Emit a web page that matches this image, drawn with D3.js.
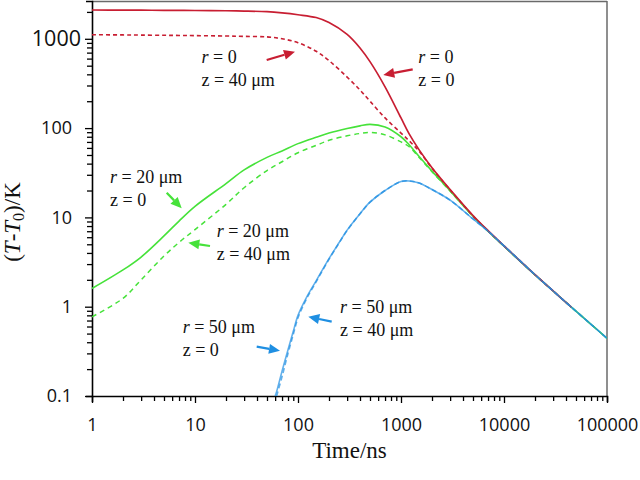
<!DOCTYPE html>
<html><head><meta charset="utf-8">
<script src="https://cdn.jsdelivr.net/npm/d3@7"></script>
<style>
html,body{margin:0;padding:0;background:#fff;}
svg{display:block;}
</style></head>
<body>
<svg id="chart" width="640" height="480"></svg>
<script>
// ---- data ----
const timeRG = [1,2,3,5,7,10,20,30,50,70,100,150,200,300,400,500,700,1000,1200,1500,2000,3000,5000,7000,10000,20000,30000,45000,70000,100000];
const redSolid  = [2100,2095,2090,2085,2080,2075,2060,2045,2010,1950,1860,1730,1520,1120,790,555,290,130,86,57,36,20.5,10.5,7.1,4.8,2.28,1.5,0.99,null,null];
const redDashed = [1110,1105,1100,1095,1090,1085,1075,1065,1050,1000,905,725,570,372,267,200,130,88,72,55,35.5,20.3,10.4,7.05,4.8,2.28,1.5,0.99,null,null];
const greenSolid  = [1.6,2.58,3.6,6.2,9.1,13.3,23.9,34,47,55.5,67,79,88,99,106,110,103,80,65,48,33,19.8,10.3,7.0,4.75,2.27,1.5,0.99,0.635,0.443];
const greenDashed = [0.77,1.24,2.0,3.7,5.25,7.3,14,21.5,33.5,42,53,64,73,82,87,89.5,84,70,62,47,32.5,19.7,10.3,7.0,4.75,2.27,1.5,0.99,0.635,0.443];
const timeBlue = [60,62,70,80,90,100,120,150,200,250,300,400,500,700,1000,1200,1500,2000,3000,5000,7000,10000,20000,30000,45000,70000,100000];
const blueSolid  = [0.1,0.112,0.19,0.33,0.53,0.8,1.25,1.95,3.45,5.2,7.2,11.0,14.8,20,25.2,25.6,24.3,20.5,15.6,9.6,7.0,4.8,2.28,1.5,0.99,0.635,0.443];
const blueDashed = [null,0.1,0.165,0.3,0.49,0.75,1.2,1.9,3.4,5.15,7.15,11.0,14.8,20,25.2,25.6,24.3,20.5,15.6,9.6,7.0,4.8,2.28,1.5,0.99,0.635,0.443];
const xTickLabels = ["1","10","100","1000","10000","100000"];
const yTickLabels = ["0.1","1","10","100","1000"];

// ---- layout ----
const L = 92, R = 607, T = 1, B = 396;
const RED = "#c81e32", GREEN = "#46e23a", BLUE = "#1f8fe2";
const svg = d3.select("#chart");
const x = d3.scaleLog().domain([1, 100000]).range([L, R]);
const y = d3.scaleLog().domain([0.1, 2650]).range([B, T]);

svg.append("defs").append("clipPath").attr("id","clip")
  .append("rect").attr("x",L).attr("y",T).attr("width",R-L).attr("height",B-T);

function logTicks(lo, hi){
  const out=[];
  for(let e=Math.floor(Math.log10(lo)); e<=Math.ceil(Math.log10(hi)); e++){
    for(let m=1;m<10;m++){ const v=m*Math.pow(10,e); if(v>=lo*0.999 && v<=hi*1.001) out.push(v); }
  }
  return out;
}
const isMajor = v => Math.abs(Math.log10(v)-Math.round(Math.log10(v)))<1e-6;

// frame top/right
svg.append("line").attr("x1",L).attr("x2",R).attr("y1",T+0.5).attr("y2",T+0.5).attr("stroke","#6a6a6a").attr("stroke-width",1.5);
svg.append("line").attr("x1",R).attr("x2",R).attr("y1",T).attr("y2",B).attr("stroke","#6a6a6a").attr("stroke-width",1.5);

// x axis
const xAxis = d3.axisBottom(x).tickValues(logTicks(1,100000)).tickSize(6).tickPadding(16)
  .tickFormat(v => isMajor(v) ? xTickLabels[Math.round(Math.log10(v))] : "");
const gx = svg.append("g").attr("transform",`translate(0,${B})`).call(xAxis);
gx.select(".domain").attr("stroke","#000").attr("stroke-width",1.6);
gx.selectAll(".tick line").attr("stroke","#000").attr("stroke-width",1.3).attr("y2", d => isMajor(d)?7:5);
gx.selectAll(".tick text").attr("font-family","'Open Sans', sans-serif").attr("font-size",18).attr("fill","#111");

// y axis
const yAxis = d3.axisLeft(y).tickValues(logTicks(0.1,2650)).tickSize(6).tickPadding(14)
  .tickFormat(v => isMajor(v) ? yTickLabels[Math.round(Math.log10(v))+1] : "");
const gy = svg.append("g").attr("transform",`translate(${L},0)`).call(yAxis);
gy.select(".domain").attr("stroke","#000").attr("stroke-width",1.6);
gy.selectAll(".tick line").attr("stroke","#000").attr("stroke-width",1.3).attr("x2", d => isMajor(d)?-7:-5);
gy.selectAll(".tick text").attr("font-family","'Open Sans', sans-serif").attr("font-size",18).attr("fill","#111");
gy.selectAll(".tick text").filter(d => Math.abs(d-1000)<1e-6).attr("font-size",21.5).attr("dx",9);

// lines
const plot = svg.append("g").attr("clip-path","url(#clip)");
function drawLine(ts, vals, color, dash, width, op){
  const data = ts.map((t,i)=>({t, v: vals[i]}));
  const line = d3.line().defined(d => d.v != null).x(d => x(d.t)).y(d => y(d.v)).curve(d3.curveCatmullRom.alpha(0.5));
  plot.append("path").datum(data).attr("d", line).attr("fill","none")
    .attr("stroke", color).attr("stroke-width", width).attr("stroke-dasharray", dash)
    .attr("stroke-opacity", op).attr("stroke-linejoin","round");
}
drawLine(timeRG, greenDashed, GREEN, "5,4", 1.5, 1);
drawLine(timeRG, greenSolid, GREEN, null, 1.6, 1);
drawLine(timeRG, redDashed, RED, "4,3", 1.6, 1);
drawLine(timeRG, redSolid, RED, null, 1.7, 1);
drawLine(timeBlue, blueDashed, BLUE, "5,3", 1.6, 0.7);
drawLine(timeBlue, blueSolid, BLUE, null, 1.6, 0.7);

// annotations
function label(xp, yp, rVal, zVal){
  const g = svg.append("g").attr("font-family","'Liberation Serif', 'Times New Roman', serif").attr("font-size",18).attr("fill","#111");
  const t1 = g.append("text").attr("x",xp).attr("y",yp).attr("xml:space","preserve");
  t1.append("tspan").attr("font-style","italic").text("r");
  t1.append("tspan").text(" = " + rVal);
  g.append("text").attr("x",xp).attr("y",yp+23).attr("xml:space","preserve").text("z = " + zVal);
}
function arrow(x1,y1,x2,y2,color){
  const ang = Math.atan2(y2-y1, x2-x1), hl = 11, hw = 5;
  const bx = x2 - hl*Math.cos(ang), by = y2 - hl*Math.sin(ang);
  svg.append("line").attr("x1",x1).attr("y1",y1).attr("x2",bx).attr("y2",by)
    .attr("stroke",color).attr("stroke-width",2.2);
  const p = [[x2,y2],[bx + hw*Math.sin(ang), by - hw*Math.cos(ang)],[bx - hw*Math.sin(ang), by + hw*Math.cos(ang)]];
  svg.append("polygon").attr("points", p.map(q=>q.join(",")).join(" ")).attr("fill",color);
}
label(201.5, 63, "0", "40 μm");
arrow(266.7, 60, 295, 51.7, RED);
label(418.3, 63, "0", "0");
arrow(412.7, 69.3, 383.3, 75, RED);
label(110, 183, "20 μm", "0");
arrow(166.7, 192.7, 181.7, 208.3, GREEN);
label(216.7, 236.7, "20 μm", "40 μm");
arrow(210, 246, 188.3, 242.7, GREEN);
label(182.7, 333, "50 μm", "0");
arrow(256.7, 346.7, 280, 350.7, BLUE);
label(340, 313.3, "50 μm", "40 μm");
arrow(331.7, 321.7, 308.3, 316.7, BLUE);

// axis titles
svg.append("text").attr("x",(L+R)/2).attr("y",458).attr("text-anchor","middle")
  .attr("font-family","'Liberation Serif', 'Times New Roman', serif").attr("font-size",23).attr("fill","#111")
  .text("Time/ns");
const yt = svg.append("text").attr("transform","translate(20,222) rotate(-90)").attr("text-anchor","middle")
  .attr("font-family","'Liberation Serif', 'Times New Roman', serif").attr("font-size",23).attr("fill","#111");
yt.append("tspan").text("(");
yt.append("tspan").attr("font-style","italic").text("T");
yt.append("tspan").text("-");
yt.append("tspan").attr("font-style","italic").text("T");
yt.append("tspan").attr("font-size",16).attr("dy",4).text("0");
yt.append("tspan").attr("dy",-4).text(")/K");
</script>
</body></html>
